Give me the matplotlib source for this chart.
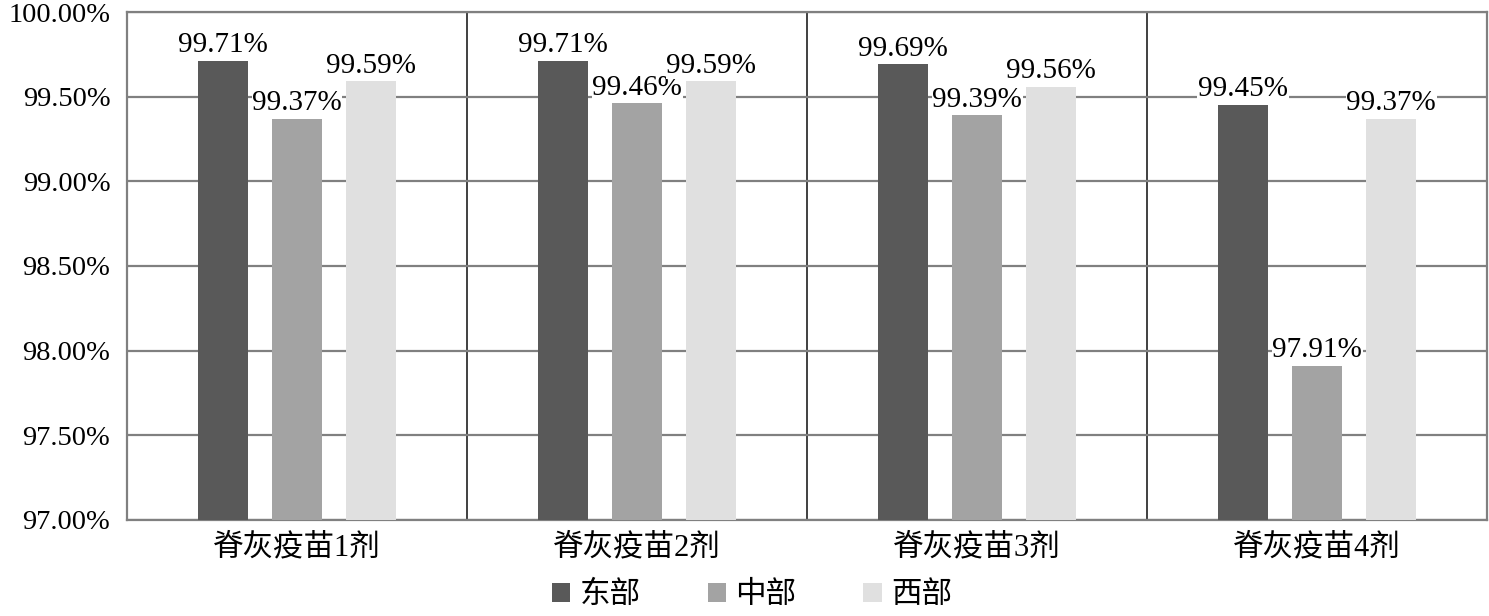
import matplotlib
matplotlib.use("Agg")
import matplotlib.pyplot as plt
import numpy as np

plt.rcParams['font.family'] = ['Liberation Serif', 'Noto Sans CJK SC', 'DejaVu Sans']

categories = ['脊灰疫苗1剂', '脊灰疫苗2剂', '脊灰疫苗3剂', '脊灰疫苗4剂']
series_names = ['东部', '中部', '西部']
east = [99.71, 99.71, 99.69, 99.45]
central = [99.37, 99.46, 99.39, 97.91]
west = [99.59, 99.59, 99.56, 99.37]
colors = ['#595959', '#a3a3a3', '#e0e0e0']

fig = plt.figure(figsize=(14.89, 6.16), dpi=100)
ax = fig.add_axes([0.0853, 0.156, 0.9134, 0.8245])

x = np.arange(len(categories))
width = 0.148
offsets = [-0.218, 0.0, 0.218]
for vals, off, col, name in zip([east, central, west], offsets, colors, series_names):
    bars = ax.bar(x + off, vals, width, bottom=0, color=col, label=name, zorder=3)
    for b, v in zip(bars, vals):
        ax.annotate(f'{v:.2f}%', (b.get_x() + b.get_width() / 2, v),
                    xytext=(0, 2), textcoords='offset points',
                    ha='center', va='bottom', fontsize=21, zorder=4,
                    bbox=dict(facecolor='white', edgecolor='none', pad=0.5))

ax.set_ylim(97.0, 100.0)
ax.set_xlim(-0.5, len(categories) - 0.5)
ticks = np.arange(97.0, 100.01, 0.5)
ax.set_yticks(ticks)
ax.set_yticklabels([f'{t:.2f}%' for t in ticks], fontsize=20.5)
ax.set_xticks(x)
ax.set_xticklabels(categories, fontsize=22)
ax.tick_params(axis='both', length=0)
ax.tick_params(axis='y', pad=12)
ax.tick_params(axis='x', pad=10)

ax.yaxis.grid(True, color='#808080', linewidth=1.6, zorder=0)
for b in np.arange(0.5, len(categories) - 0.5, 1.0):
    ax.axvline(b, color='#404040', linewidth=1.4, zorder=0)
for s in ax.spines.values():
    s.set_color('#808080')
    s.set_linewidth(1.6)

fig.legend(loc='lower center', bbox_to_anchor=(0.505, -0.035), ncol=3, frameon=False,
           fontsize=22, handlelength=0.6, handleheight=0.6, handletextpad=0.3,
           columnspacing=2.2)

fig.savefig('out.png', dpi=100)
